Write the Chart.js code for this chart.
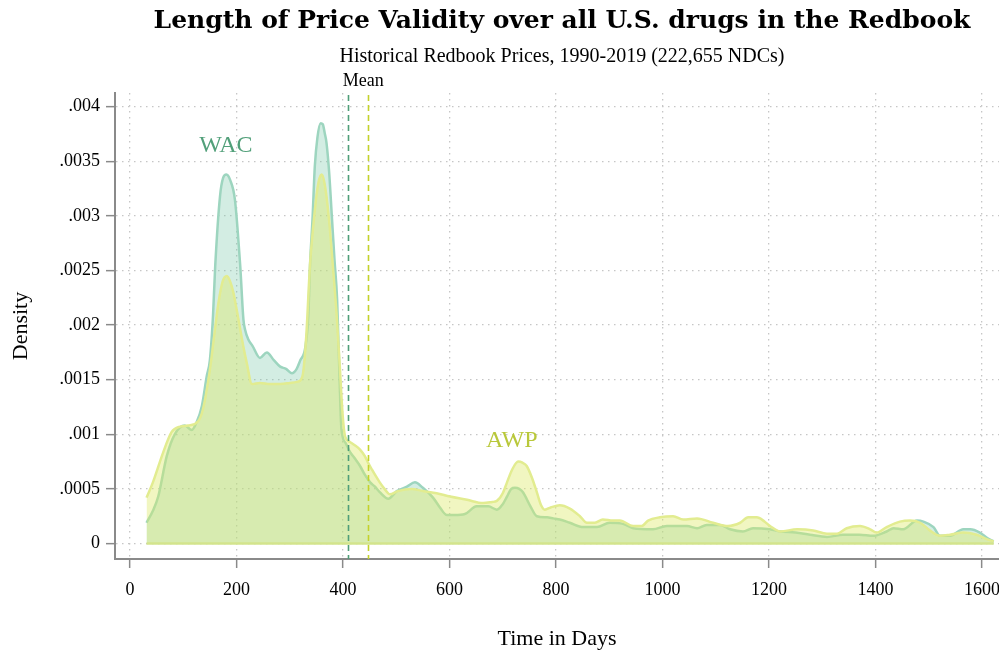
<!DOCTYPE html>
<html><head><meta charset="utf-8">
<script src="https://cdn.jsdelivr.net/npm/chart.js@4/dist/chart.umd.min.js"></script>
<style>html,body{margin:0;padding:0;background:#fff;}#wrap{width:999px;height:651px;position:relative}</style>
</head><body><div id="wrap"><canvas id="c" width="999" height="651"></canvas></div>
<script>
// ---- data ----
const wacDays = [31,43,53,69,84,103,116,125,135,144,150,156,160,169,175,181,188,197,207,213,216,222,230,244,257,270,282,293,304,313,320,329,335,338,343,347,352,358,362,366,369,374,379,384,389,393,397,405,413,422,432,441,451,460,469,485,501,520,535,550,569,582,595,610,629,651,673,689,700,708,716,723,731,738,751,764,783,795,807,826,851,877,901,926,945,982,1008,1046,1065,1083,1108,1127,1151,1170,1202,1221,1250,1277,1309,1339,1370,1396,1421,1434,1452,1478,1490,1509,1521,1540,1565,1578,1596,1610,1622];
const wacDensity = [0.00019,0.0003,0.00043,0.0008,0.001,0.00108,0.00104,0.00111,0.00126,0.00153,0.00168,0.0021,0.00254,0.00318,0.00335,0.00338,0.00333,0.00315,0.00254,0.00205,0.00196,0.00187,0.00181,0.0017,0.00175,0.00168,0.00162,0.0016,0.00156,0.0016,0.00168,0.00179,0.0021,0.00254,0.003,0.00345,0.00372,0.00385,0.00384,0.00375,0.00367,0.0034,0.003,0.0026,0.00223,0.0016,0.00105,0.00092,0.00084,0.00078,0.00071,0.00063,0.00056,0.00052,0.00047,0.00041,0.00048,0.00052,0.00056,0.00051,0.00042,0.00033,0.00026,0.00026,0.00027,0.00034,0.00034,0.00031,0.00036,0.00043,0.0005,0.00051,0.0005,0.00047,0.00035,0.00025,0.00024,0.00023,0.00022,0.00019,0.00015,0.00015,0.00019,0.00018,0.00014,0.00013,0.00016,0.00016,0.00014,0.00017,0.00017,0.00013,0.00011,0.00014,0.00013,0.00011,0.0001,0.00008,0.00006,0.00008,0.00008,0.00007,0.00011,0.00014,0.00013,0.00021,0.0002,0.00015,0.00007,0.00007,0.00013,0.00013,0.0001,0.00005,0.00002];
const awpDays = [31,43,62,78,94,109,128,137,150,158,166,174,182,188,194,200,206,213,219,229,244,263,282,300,313,321,325,331,338,344,350,355,360,364,369,375,381,388,394,399,404,413,422,432,441,447,454,460,469,478,488,503,529,550,576,601,633,663,680,689,700,708,718,729,737,745,755,764,772,779,790,807,826,845,858,873,888,907,920,945,961,973,995,1020,1039,1065,1095,1123,1146,1161,1177,1192,1202,1221,1253,1283,1309,1328,1346,1371,1390,1402,1421,1446,1465,1484,1502,1521,1540,1565,1590,1609,1622];
const awpDensity = [0.00042,0.00056,0.00083,0.00102,0.00107,0.00108,0.00112,0.00123,0.00159,0.0019,0.0022,0.0024,0.00245,0.0024,0.0023,0.00215,0.00199,0.0018,0.00166,0.00146,0.00147,0.00146,0.00146,0.00147,0.00148,0.0015,0.00156,0.0019,0.00255,0.0029,0.00318,0.00333,0.00338,0.00333,0.00318,0.0029,0.00254,0.0021,0.00162,0.0012,0.00098,0.00093,0.0009,0.00086,0.0008,0.00074,0.00068,0.00063,0.00056,0.0005,0.00045,0.00048,0.0005,0.00048,0.00046,0.00043,0.0004,0.00037,0.00038,0.00039,0.00046,0.00056,0.00068,0.00075,0.00074,0.00071,0.0006,0.00047,0.00035,0.00031,0.00033,0.00035,0.00032,0.00025,0.00019,0.00019,0.00022,0.00021,0.00021,0.00016,0.00016,0.00021,0.00024,0.00025,0.00022,0.00023,0.00019,0.00016,0.00019,0.00024,0.00024,0.0002,0.00016,0.00011,0.00013,0.00012,0.00009,0.00009,0.00014,0.00016,0.00013,0.0001,0.00015,0.0002,0.00021,0.00019,0.00012,0.00007,0.00008,0.0001,0.00008,0.00004,0.00002];
const meanWAC = 409;
const meanAWP = 447;
const xTicks = [0,200,400,600,800,1000,1200,1400,1600];
const yTicks = [0,0.0005,0.001,0.0015,0.002,0.0025,0.003,0.0035,0.004];
const yTickLabels = ['0','.0005','.001','.0015','.002','.0025','.003','.0035','.004'];
const seriesNames = ['WAC','AWP'];
const titleText = 'Length of Price Validity over all U.S. drugs in the Redbook';
const subtitleText = 'Historical Redbook Prices, 1990-2019 (222,655 NDCs)';

// ---- styling ----
const SERIF = '"Liberation Serif", "Times New Roman", serif';
const wacLine = '#9dd5bf', wacFill = 'rgba(120,200,170,0.33)', wacText = '#52a07a', wacMeanCol = '#4f9e78';
const awpLine = '#e2ec90', awpFill = 'rgba(220,232,100,0.40)', awpText = '#b9c83a', awpMeanCol = '#c4d22c';

const toXY = (xs, ys) => xs.map((x, i) => ({x, y: ys[i]}));

const decor = {
  id: 'decor',
  afterDatasetsDraw(chart) {
    const {ctx, scales: {x, y}, chartArea} = chart;
    ctx.save();
    // baseline outline of area
    ctx.strokeStyle = '#d3e48c'; ctx.lineWidth = 2.5;
    ctx.beginPath();
    ctx.moveTo(x.getPixelForValue(Math.min(wacDays[0], awpDays[0])), y.getPixelForValue(0));
    ctx.lineTo(x.getPixelForValue(Math.max(wacDays[wacDays.length-1], awpDays[awpDays.length-1])), y.getPixelForValue(0));
    ctx.stroke();
    // mean lines
    ctx.lineWidth = 1.6; ctx.setLineDash([6, 4]);
    [[meanWAC, wacMeanCol], [meanAWP, awpMeanCol]].forEach(([m, col]) => {
      const px = Math.round(x.getPixelForValue(m)) + 0.5;
      ctx.strokeStyle = col;
      ctx.beginPath(); ctx.moveTo(px, chartArea.top + 2); ctx.lineTo(px, chartArea.bottom); ctx.stroke();
    });
    ctx.setLineDash([]);
    ctx.restore();
  },
  afterDraw(chart) {
    const {ctx, scales: {x, y}} = chart;
    ctx.save();
    ctx.textBaseline = 'middle';
    ctx.fillStyle = '#000';
    ctx.textAlign = 'center';
    ctx.font = 'bold 25px "DejaVu Serif", serif';
    ctx.fillText(titleText, 562, 21);
    ctx.font = '20px ' + SERIF;
    ctx.fillText(subtitleText, 562, 57);
    ctx.textAlign = 'left';
    ctx.font = '18px ' + SERIF;
    ctx.fillText('Mean', x.getPixelForValue(meanWAC) - 5, 81);
    ctx.textAlign = 'center';
    ctx.font = '24px ' + SERIF;
    ctx.fillStyle = wacText;
    ctx.fillText(seriesNames[0], x.getPixelForValue(180), y.getPixelForValue(0.00364));
    ctx.fillStyle = awpText;
    ctx.fillText(seriesNames[1], x.getPixelForValue(717), y.getPixelForValue(0.00094));
    ctx.restore();
  }
};

const gridCommon = {
  color: '#c6c6c6', lineWidth: 1.3, drawTicks: true, tickLength: 9,
  tickColor: '#8a8a8a', tickWidth: 1.5, tickBorderDash: []
};

new Chart(document.getElementById('c'), {
  type: 'line',
  data: {
    datasets: [
      {label: seriesNames[1], data: toXY(awpDays, awpDensity), order: 0,
       borderColor: awpLine, backgroundColor: awpFill, borderWidth: 2.5, fill: 'origin',
       pointRadius: 0, cubicInterpolationMode: 'monotone'},
      {label: seriesNames[0], data: toXY(wacDays, wacDensity), order: 1,
       borderColor: wacLine, backgroundColor: wacFill, borderWidth: 2.5, fill: 'origin',
       pointRadius: 0, cubicInterpolationMode: 'monotone'}
    ]
  },
  options: {
    responsive: false, animation: false, devicePixelRatio: 1,
    layout: {padding: {top: 93, left: 0, right: 0, bottom: 0}},
    plugins: {legend: {display: false}, tooltip: {enabled: false}, title: {display: false}},
    scales: {
      x: {
        type: 'linear', min: -28.2, max: 1632,
        afterBuildTicks: s => { s.ticks = xTicks.map(v => ({value: v})); },
        afterFit: s => { s.height = 92; s.paddingLeft = 0; s.paddingRight = 0; },
        ticks: {font: {family: SERIF, size: 18}, color: '#000', padding: 11, maxRotation: 0, autoSkip: false,
                callback: v => String(v)},
        grid: gridCommon,
        border: {display: true, color: '#8a8a8a', width: 2, dash: [1.5, 4.5]},
        title: {display: true, text: 'Time in Days', font: {family: SERIF, size: 22, lineHeight: 1}, color: '#000',
                padding: {top: 0, bottom: 1}}
      },
      y: {
        type: 'linear', min: -0.000142, max: 0.004126,
        afterBuildTicks: s => { s.ticks = yTicks.map(v => ({value: v})); },
        afterFit: s => { s.width = 115; s.paddingTop = 0; s.paddingBottom = 0; },
        ticks: {font: {family: SERIF, size: 18}, color: '#000', padding: 6, autoSkip: false,
                callback: (v, i) => yTickLabels[i]},
        grid: gridCommon,
        border: {display: true, color: '#8a8a8a', width: 2, dash: [1.5, 4.5]},
        title: {display: true, text: 'Density', font: {family: SERIF, size: 22, lineHeight: 1}, color: '#000',
                padding: {top: 10, bottom: 0}}
      }
    }
  },
  plugins: [decor]
});
</script></body></html>
